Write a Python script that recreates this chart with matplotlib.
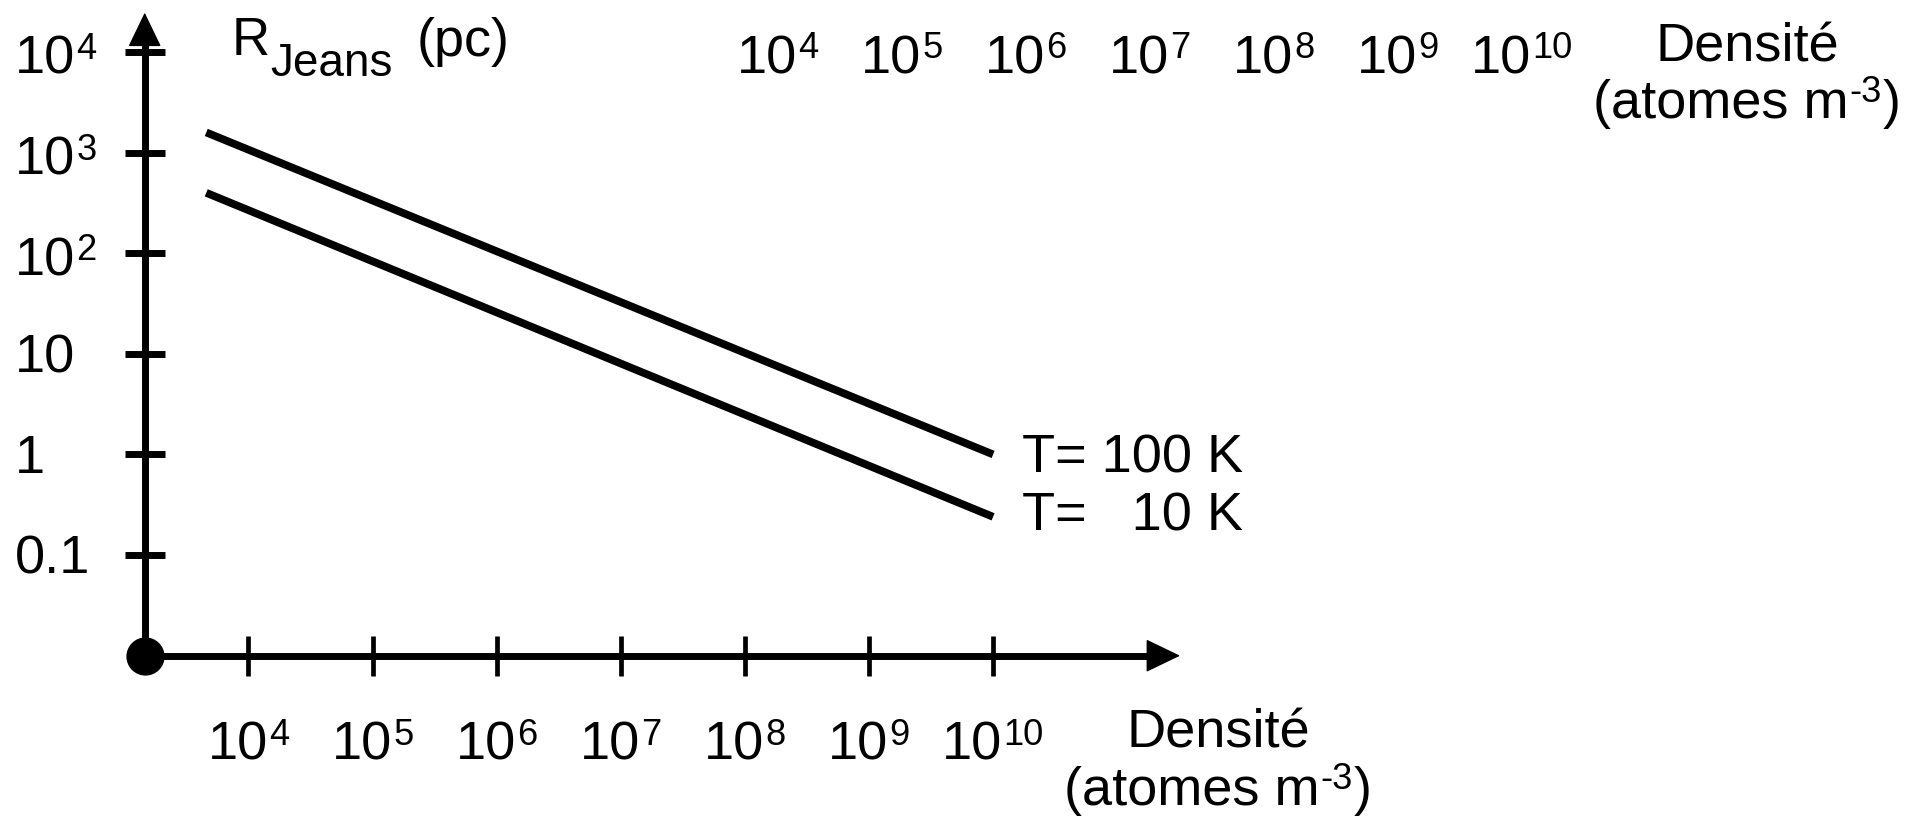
import matplotlib
matplotlib.use("Agg")
import matplotlib.pyplot as plt
import numpy as np
from matplotlib import transforms as mtransforms
from matplotlib.text import Annotation
from matplotlib.patches import FancyArrowPatch
from matplotlib.transforms import Bbox
from matplotlib.ticker import NullLocator

plt.rcParams['font.family'] = ['Liberation Sans', 'DejaVu Sans']

# ---------------- data ----------------
log_density = np.array([3.66, 10.0])          # log10 density (atomes m^-3)
log_r_100K = np.array([3.2, 0.0])             # log10 R_Jeans (pc), T = 100 K
log_r_10K = np.array([2.6, -0.62])            # log10 R_Jeans (pc), T = 10 K
series_labels = ['T= 100 K', 'T=   10 K']
x_tick_exponents = [4, 5, 6, 7, 8, 9, 10]
y_tick_values = [0.1, 1, 10, 1e2, 1e3, 1e4]
y_tick_labels = [('0.1', ''), ('1', ''), ('10', ''), ('10', '2'), ('10', '3'), ('10', '4')]
x_label_line1 = 'Densité'
x_label_line2 = ('(atomes m', '-3', ')')
y_label_parts = ('R', 'Jeans', '(pc)')

# ---------------- figure ----------------
W, H, DPI = 1924, 819, 100
fig = plt.figure(figsize=(W / DPI, H / DPI), dpi=DPI)
fig.patch.set_facecolor('white')

ax_left, ax_right, ax_top, ax_bottom = 144.7, 1180.0, 12.7, 655.7   # pixels
ax = fig.add_axes([ax_left / W, 1 - ax_bottom / H,
                   (ax_right - ax_left) / W, (ax_bottom - ax_top) / H])
ax.set_xscale('log')
ax.set_yscale('log')
x0, x1 = 10 ** 3.164, 10 ** 11.506
y0, y1 = 1e-2, 10 ** 4.39
ax.set_xlim(x0, x1)
ax.set_ylim(y0, y1)
ax.patch.set_visible(False)
for s in ['top', 'right']:
    ax.spines[s].set_visible(False)
AX_LW = 5.0
for s in ['left', 'bottom']:
    ax.spines[s].set_linewidth(AX_LW)
    ax.spines[s].set_capstyle('butt')
    ax.spines[s].set_color('k')
ax.spines['left'].set_bounds(y0, 10 ** 4.2)
ax.spines['bottom'].set_bounds(x0, 10 ** 11.35)

ax.set_xticks([10.0 ** e for e in x_tick_exponents])
ax.set_yticks(y_tick_values)
ax.xaxis.set_minor_locator(NullLocator())
ax.yaxis.set_minor_locator(NullLocator())
ax.tick_params(axis='y', which='major', direction='inout', length=29.5, width=5.0,
               color='k', labelleft=False, left=True, right=False)
ax.tick_params(axis='x', which='major', direction='inout', length=29.5, width=3.4,
               color='k', labelbottom=False, bottom=True, top=False)

# arrow heads
for posA, posB in [((0, 0.9), (0, 1)), ((0.9, 0), (1, 0))]:
    arr = FancyArrowPatch(posA=posA, posB=posB, transform=ax.transAxes,
                          arrowstyle='-|>,head_length=22.4,head_width=10.8',
                          mutation_scale=1, color='k', lw=1, shrinkA=0, shrinkB=0,
                          clip_on=False, zorder=4)
    ax.add_patch(arr)

# origin dot
ax.plot([x0], [y0], 'o', ms=26.5, color='k', clip_on=False, zorder=6)

# data lines
LINE_LW = 5.6
ax.plot(10 ** log_density, 10 ** log_r_100K, color='k', lw=LINE_LW,
        solid_capstyle='butt', clip_on=False)
ax.plot(10 ** log_density, 10 ** log_r_10K, color='k', lw=LINE_LW,
        solid_capstyle='butt', clip_on=False)

FS = 39
ax.annotate(series_labels[0], xy=(10 ** log_density[-1], 10 ** log_r_100K[-1]),
            xytext=(29, -17.7), textcoords='offset pixels', fontsize=FS,
            ha='left', va='baseline', annotation_clip=False)
ax.annotate(series_labels[1], xy=(10 ** log_density[-1], 10 ** log_r_10K[-1]),
            xytext=(29, -13.7), textcoords='offset pixels', fontsize=FS,
            ha='left', va='baseline', annotation_clip=False)

# ---------------- composite texts ----------------
ID = mtransforms.IdentityTransform()
SUP = 0.67


def composite(x, y, base, sup='', tail='', fs=FS, sup_off=(1, 3), tail_off=(1, 0)):
    main = fig.text(x, y, base, transform=ID, fontsize=fs, ha='left', va='baseline')
    parts = [main]
    if sup:
        s = Annotation(sup, xy=(1, 1), xycoords=main, xytext=sup_off,
                       textcoords='offset pixels', fontsize=fs * SUP,
                       ha='left', va='top')
        fig.add_artist(s)
        parts.append(s)
        if tail:
            t = Annotation(tail, xy=(1, 0), xycoords=(s, main), xytext=tail_off,
                           textcoords='offset pixels', fontsize=fs,
                           ha='left', va='bottom')
            fig.add_artist(t)
            parts.append(t)
    return parts


to_centre = []

# y tick labels (left aligned)
for v, (base, sup) in zip(y_tick_values, y_tick_labels):
    yd = ax.transData.transform((x0, v))[1]
    off = 22 if sup else 18.5
    composite(15, yd - off, base, sup)

# x tick labels (bottom row and shifted copy at the top)
TOP_DX = 529
for e in x_tick_exponents:
    xd = ax.transData.transform((10.0 ** e, y0))[0]
    to_centre.append((composite(0, H - 760, '10', str(e)), xd))
    to_centre.append((composite(0, H - 73.3, '10', str(e)), xd + TOP_DX))

# x axis title (bottom and top copies)
for xc, yb1, yb2 in [(1218, H - 748, H - 805), (1218 + TOP_DX, H - 61.3, H - 118)]:
    fig.text(xc, yb1, x_label_line1, transform=ID, fontsize=FS, ha='center', va='baseline')
    to_centre.append((composite(0, yb2, x_label_line2[0], x_label_line2[1],
                                x_label_line2[2], sup_off=(1, 4), tail_off=(1, 0)), xc))

# y axis title
fig.text(231.5, H - 55, y_label_parts[0], transform=ID, fontsize=38, ha='left', va='baseline')
fig.text(270.5, H - 75.7, y_label_parts[1], transform=ID, fontsize=33, ha='left', va='baseline')
fig.text(416.5, H - 56, y_label_parts[2], transform=ID, fontsize=39, ha='left', va='baseline')

# centre composites
renderer = fig.canvas.get_renderer()
for parts, xc in to_centre:
    u = Bbox.union([p.get_window_extent(renderer) for p in parts])
    main = parts[0]
    main.set_x(main.get_position()[0] + xc - (u.x0 + u.x1) / 2)

fig.savefig('out.png', dpi=DPI, facecolor='white')
